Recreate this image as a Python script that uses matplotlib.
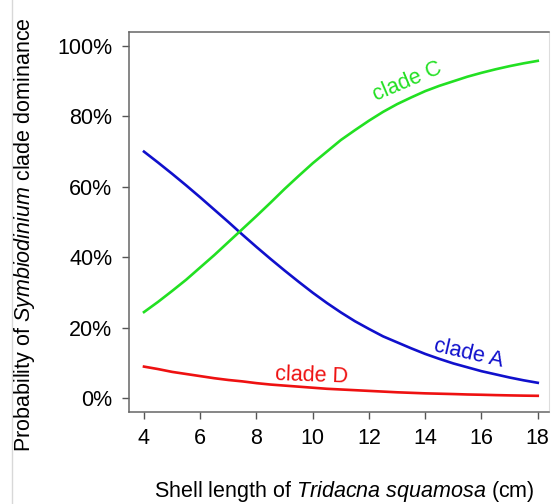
import matplotlib
matplotlib.use("Agg")
import matplotlib.pyplot as plt
from matplotlib.lines import Line2D

plt.rcParams['font.family'] = ['Liberation Sans', 'DejaVu Sans']
plt.rcParams['mathtext.fontset'] = 'custom'
plt.rcParams['mathtext.rm'] = 'Liberation Sans'
plt.rcParams['mathtext.it'] = 'Liberation Sans:italic'

# shell length (cm)
shell_length = [4, 4.5, 5, 5.5, 6, 6.5, 7, 7.5, 8, 8.5, 9, 9.5, 10, 10.5, 11,
                11.5, 12, 12.5, 13, 13.5, 14, 14.5, 15, 15.5, 16, 16.5, 17,
                17.5, 18]

# probability of dominance
clade_a = [0.700, 0.669, 0.637, 0.604, 0.570, 0.535, 0.500, 0.464, 0.429,
           0.395, 0.362, 0.330, 0.299, 0.270, 0.243, 0.218, 0.196, 0.175,
           0.158, 0.141, 0.125, 0.111, 0.098, 0.087, 0.076, 0.067, 0.058,
           0.050, 0.043]
clade_c = [0.244, 0.273, 0.304, 0.336, 0.371, 0.406, 0.443, 0.480, 0.517,
           0.555, 0.594, 0.631, 0.667, 0.700, 0.733, 0.761, 0.788, 0.813,
           0.835, 0.854, 0.872, 0.887, 0.900, 0.913, 0.924, 0.934, 0.943,
           0.951, 0.958]
clade_d = [0.089, 0.082, 0.074, 0.068, 0.062, 0.056, 0.051, 0.047, 0.042,
           0.038, 0.035, 0.032, 0.029, 0.026, 0.024, 0.022, 0.020, 0.018,
           0.016, 0.0145, 0.013, 0.012, 0.011, 0.0098, 0.009, 0.008, 0.0072,
           0.0065, 0.006]

x_ticks = [4, 6, 8, 10, 12, 14, 16, 18]
y_ticks = [0, 0.2, 0.4, 0.6, 0.8, 1.0]
y_ticklabels = ['0%', '20%', '40%', '60%', '80%', '100%']

W, H = 552, 504
fig = plt.figure(figsize=(W / 100, H / 100), dpi=100)
ax = fig.add_axes([129 / W, 1 - 412 / H, (549 - 129) / W, (412 - 32) / H])

ax.plot(shell_length, clade_a, color='#1010cc', lw=1.9)
ax.plot(shell_length, clade_c, color='#22e022', lw=1.9)
ax.plot(shell_length, clade_d, color='#ee1111', lw=1.9)

ax.set_xlim(3.467, 18.40)
ax.set_ylim(-0.04, 1.04)

ax.set_xticks(x_ticks)
ax.set_yticks(y_ticks)
ax.set_yticklabels(y_ticklabels)
ax.tick_params(axis='both', direction='out', length=5, width=1,
               color='#555555', labelsize=15.5)
ax.tick_params(axis='x', pad=6.5)
ax.tick_params(axis='y', pad=7)

for side in ['left', 'bottom', 'top']:
    ax.spines[side].set_color('#666666')
    ax.spines[side].set_linewidth(1.1)
ax.spines['right'].set_color('#dddddd')

# curve labels
ax.text(13.38, 0.90, 'clade C', color='#22e022', fontsize=15.5,
        rotation=23, ha='center', va='center')
ax.text(15.54, 0.126, 'clade A', color='#1010cc', fontsize=15.5,
        rotation=-13, ha='center', va='center')
ax.text(9.96, 0.062, 'clade D', color='#ee1111', fontsize=15.5,
        rotation=-2, ha='center', va='center')

fig.text(25 / W, 1 - 235 / H, r'Probability of $\mathit{Symbiodinium}$ clade dominance',
         rotation=90, ha='center', va='center', fontsize=15.5)
fig.text(344.5 / W, 6.5 / H, r'Shell length of $\mathit{Tridacna\ squamosa}$ (cm)',
         ha='center', va='baseline', fontsize=15.5)

# faint frame line on the left of the original image
fig.add_artist(Line2D([12 / W, 12 / W], [0, 1], color='#d8d8d8', lw=1))

fig.savefig('out.png', dpi=100)
